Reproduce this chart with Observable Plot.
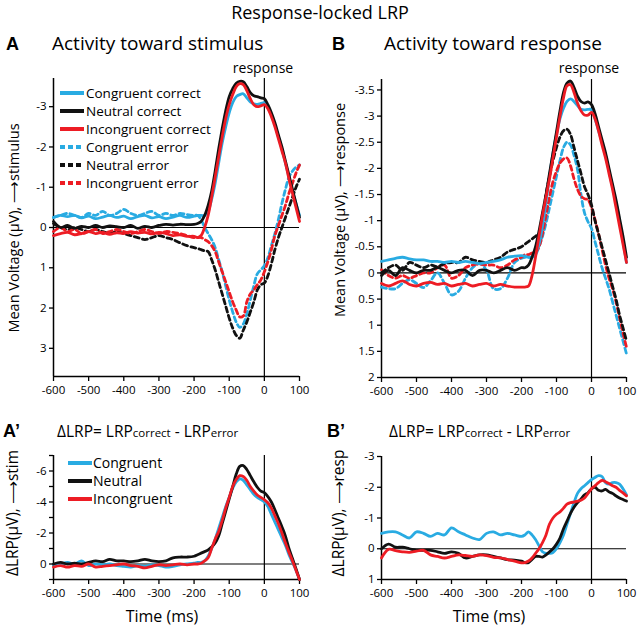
<!DOCTYPE html>
<html><head><meta charset="utf-8">
<script src="https://cdn.jsdelivr.net/npm/d3@7"></script>
<script src="https://cdn.jsdelivr.net/npm/@observablehq/plot@0.6"></script>
<style>
body{margin:0;background:#fff;}
#wrap{position:relative;width:640px;height:632px;overflow:hidden;font-family:"Open Sans",sans-serif;}
#wrap > .p{position:absolute;}
#overlay{position:absolute;left:0;top:0;pointer-events:none;}
</style></head>
<body><div id="wrap"></div>
<script>
// ---------- data ----------
const time = [-600,-580,-560,-540,-520,-500,-480,-460,-440,-420,-400,-380,-360,-340,-320,-300,-280,-260,-240,-220,-200,
  -190,-180,-170,-160,-150,-140,-130,-120,-110,-100,-90,-80,-70,-60,-50,-40,-30,-20,-10,0,10,20,30,40,50,60,70,80,90,100];
const xTicks = [-600,-500,-400,-300,-200,-100,0,100];

// Panel A: activity toward stimulus (µV)
const aCongCorrect = [-0.25,-0.3,-0.27,-0.3,-0.24,-0.28,-0.22,-0.26,-0.3,-0.25,-0.28,-0.22,-0.27,-0.3,-0.24,-0.27,-0.22,-0.26,-0.3,-0.25,-0.28,
  -0.3,-0.3,-0.3,-0.4,-0.7,-1.1,-1.6,-2.1,-2.5,-2.85,-3.1,-3.25,-3.3,-3.32,-3.22,-3.12,-3.07,-3.06,-3.08,-3.1,-3.0,-2.8,-2.55,-2.25,-1.95,-1.6,-1.25,-0.9,-0.6,-0.3];
const aNeutCorrect = [-0.15,0.0,-0.05,0.02,-0.03,0.0,-0.05,0.0,-0.04,-0.02,0.0,-0.05,0.02,-0.03,0.0,-0.05,-0.08,-0.06,-0.08,-0.07,-0.08,
  -0.1,-0.15,-0.3,-0.55,-0.9,-1.4,-1.95,-2.45,-2.9,-3.25,-3.45,-3.58,-3.63,-3.62,-3.5,-3.35,-3.27,-3.25,-3.22,-3.2,-3.05,-2.85,-2.6,-2.3,-2.0,-1.65,-1.3,-0.95,-0.6,-0.25];
const aIncCorrect = [0.2,0.15,0.12,0.18,0.15,0.1,0.15,0.12,0.17,0.13,0.15,0.1,0.14,0.12,0.16,0.12,0.15,0.2,0.18,0.22,0.22,
  0.25,0.2,0.0,-0.3,-0.75,-1.25,-1.75,-2.25,-2.7,-3.05,-3.3,-3.5,-3.57,-3.55,-3.4,-3.2,-3.05,-3.0,-3.02,-3.05,-2.95,-2.75,-2.5,-2.2,-1.9,-1.6,-1.2,-0.85,-0.5,-0.15];
const aCongError = [-0.25,-0.3,-0.35,-0.3,-0.25,-0.35,-0.3,-0.4,-0.3,-0.35,-0.45,-0.35,-0.3,-0.35,-0.4,-0.3,-0.35,-0.3,-0.35,-0.32,-0.3,
  -0.3,-0.2,0.0,0.15,0.3,0.5,0.8,1.1,1.45,1.8,2.1,2.35,2.48,2.4,2.15,1.8,1.45,1.15,1.05,0.95,0.75,0.45,0.15,-0.2,-0.6,-0.95,-1.25,-1.4,-1.5,-1.55];
const aNeutError = [-0.1,0.0,0.05,0.0,0.05,0.1,0.05,0.1,0.15,0.1,0.15,0.2,0.25,0.3,0.25,0.2,0.25,0.3,0.38,0.45,0.5,
  0.52,0.55,0.58,0.6,0.8,1.05,1.35,1.65,1.95,2.25,2.5,2.68,2.75,2.55,2.35,2.1,1.85,1.55,1.42,1.38,1.2,0.9,0.55,0.25,0.0,-0.25,-0.5,-0.75,-1.0,-1.2];
const aIncError = [0.1,0.0,0.1,0.05,0.15,0.1,0.05,0.15,0.1,0.05,0.1,0.15,0.1,0.05,0.1,0.15,0.1,0.12,0.15,0.2,0.25,
  0.25,0.25,0.3,0.35,0.45,0.6,0.85,1.1,1.35,1.6,1.85,2.05,2.22,2.2,1.85,1.65,1.55,1.42,1.3,1.1,0.85,0.55,0.2,-0.05,-0.3,-0.55,-0.85,-1.1,-1.35,-1.55];

// Panel B: activity toward response (µV)
const bCongCorrect = [-0.22,-0.25,-0.28,-0.3,-0.27,-0.25,-0.25,-0.22,-0.22,-0.2,-0.22,-0.2,-0.22,-0.2,-0.18,-0.2,-0.22,-0.25,-0.3,-0.32,-0.33,
  -0.32,-0.3,-0.3,-0.38,-0.55,-0.9,-1.35,-1.85,-2.3,-2.65,-2.95,-3.15,-3.28,-3.33,-3.28,-3.2,-3.13,-3.12,-3.13,-3.12,-2.95,-2.72,-2.5,-2.25,-1.95,-1.65,-1.35,-1.0,-0.6,-0.2];
const bNeutCorrect = [0.05,-0.05,0.05,-0.1,-0.05,0.0,-0.05,-0.05,-0.1,-0.05,0.0,-0.05,-0.05,0.05,-0.05,-0.05,0.0,-0.05,-0.1,-0.05,-0.1,
  -0.1,-0.15,-0.3,-0.5,-0.8,-1.15,-1.5,-1.9,-2.3,-2.7,-3.1,-3.45,-3.63,-3.67,-3.55,-3.38,-3.28,-3.25,-3.27,-3.22,-3.05,-2.8,-2.55,-2.3,-2.0,-1.7,-1.4,-1.05,-0.7,-0.3];
const bIncCorrect = [0.2,0.25,0.2,0.15,0.22,0.25,0.2,0.18,0.22,0.2,0.25,0.22,0.2,0.25,0.22,0.2,0.25,0.22,0.25,0.27,0.27,
  0.27,0.25,0.05,-0.3,-0.7,-1.1,-1.45,-1.8,-2.2,-2.6,-3.0,-3.35,-3.58,-3.6,-3.45,-3.25,-3.1,-3.02,-3.02,-3.07,-2.95,-2.72,-2.45,-2.2,-1.9,-1.6,-1.25,-0.9,-0.55,-0.2];
const bCongError = [0.27,0.3,0.3,0.2,0.13,0.2,0.28,0.15,0.0,0.2,0.42,0.35,0.1,-0.1,-0.18,-0.05,0.3,0.3,0.1,-0.2,-0.28,
  -0.3,-0.3,-0.3,-0.35,-0.5,-0.7,-0.95,-1.25,-1.55,-1.85,-2.15,-2.4,-2.5,-2.45,-2.25,-1.98,-1.5,-1.15,-0.98,-0.85,-0.6,-0.35,-0.1,0.1,0.3,0.55,0.8,1.05,1.3,1.55];
const bNeutError = [0.0,-0.1,-0.15,-0.05,-0.2,-0.15,-0.1,-0.15,-0.12,-0.18,-0.2,-0.2,-0.3,-0.25,-0.22,-0.2,-0.25,-0.3,-0.4,-0.45,-0.5,
  -0.55,-0.6,-0.65,-0.7,-0.75,-1.0,-1.5,-1.85,-2.15,-2.4,-2.6,-2.72,-2.75,-2.65,-2.4,-2.15,-1.9,-1.65,-1.5,-1.3,-1.0,-0.75,-0.5,-0.25,0.0,0.25,0.5,0.8,1.05,1.3];
const bIncError = [-0.06,0.05,0.1,0.05,0.1,0.05,0.0,0.0,-0.1,-0.15,0.1,0.05,-0.1,-0.15,-0.17,-0.15,-0.15,-0.1,-0.15,-0.25,-0.3,
  -0.35,-0.35,-0.38,-0.4,-0.5,-0.75,-1.1,-1.45,-1.75,-1.95,-2.1,-2.18,-2.2,-2.05,-1.8,-1.6,-1.47,-1.42,-1.4,-1.25,-1.02,-0.75,-0.45,-0.15,0.1,0.3,0.55,0.85,1.15,1.42];

// Panel A': ΔLRP toward stimulus
const apCong = [0.1,0.0,-0.1,0.0,-0.2,0.1,0.0,0.05,0.0,0.1,0.15,0.2,0.1,0.15,0.05,0.1,0.2,0.15,0.05,0.0,-0.05,
  -0.1,-0.1,-0.2,-0.5,-1.0,-1.6,-2.3,-3.0,-3.7,-4.3,-4.9,-5.3,-5.5,-5.4,-5.1,-4.8,-4.5,-4.3,-4.15,-4.0,-3.7,-3.2,-2.7,-2.2,-1.7,-1.2,-0.6,-0.1,0.4,1.0];
const apNeut = [0.0,-0.1,0.0,-0.05,0.0,-0.1,-0.2,-0.15,-0.3,-0.2,-0.2,-0.15,-0.2,-0.3,-0.2,-0.15,-0.2,-0.4,-0.45,-0.45,-0.5,
  -0.6,-0.7,-0.8,-0.9,-1.1,-1.35,-1.8,-2.6,-3.4,-4.2,-5.0,-5.8,-6.3,-6.35,-6.1,-5.7,-5.3,-4.95,-4.7,-4.6,-4.35,-4.0,-3.5,-2.95,-2.4,-1.8,-1.0,-0.35,0.3,1.0];
const apInc = [0.2,0.1,0.2,0.1,0.15,0.0,0.2,0.15,0.1,0.05,0.0,0.1,0.15,0.25,0.15,0.05,0.1,0.05,0.0,0.05,0.0,
  0.0,-0.05,-0.2,-0.4,-1.0,-1.6,-2.1,-2.8,-3.6,-4.3,-5.0,-5.45,-5.7,-5.65,-5.4,-5.0,-4.7,-4.45,-4.3,-4.15,-3.95,-3.6,-3.1,-2.6,-2.0,-1.35,-0.75,-0.2,0.4,1.0];

// Panel B': ΔLRP toward response
const bpCong = [-0.5,-0.55,-0.55,-0.45,-0.35,-0.55,-0.5,-0.4,-0.5,-0.45,-0.68,-0.55,-0.45,-0.35,-0.3,-0.5,-0.55,-0.45,-0.5,-0.45,-0.4,
  -0.45,-0.55,-0.45,-0.3,-0.1,0.1,0.15,0.15,0.12,0.0,-0.2,-0.45,-0.8,-1.15,-1.5,-1.8,-1.95,-2.05,-2.15,-2.25,-2.32,-2.38,-2.35,-2.15,-2.1,-2.15,-2.15,-2.1,-1.95,-1.75];
const bpNeut = [0.0,-0.15,-0.05,-0.05,0.0,0.05,0.05,0.05,0.1,0.15,0.1,0.15,0.3,0.25,0.2,0.2,0.25,0.3,0.35,0.37,0.4,
  0.45,0.45,0.35,0.25,0.25,0.27,0.2,0.1,0.0,-0.15,-0.35,-0.65,-0.9,-1.15,-1.35,-1.5,-1.62,-1.75,-1.82,-1.95,-2.0,-1.9,-1.88,-1.93,-1.85,-1.8,-1.72,-1.65,-1.6,-1.55];
const bpInc = [0.3,0.02,0.06,0.1,0.12,0.08,0.05,0.2,0.25,0.3,0.25,0.2,0.22,0.25,0.2,0.22,0.28,0.3,0.35,0.4,0.46,
  0.45,0.4,0.3,0.15,0.0,-0.2,-0.45,-0.8,-1.0,-1.12,-1.2,-1.32,-1.45,-1.5,-1.52,-1.55,-1.58,-1.65,-1.8,-1.95,-2.05,-2.15,-2.22,-2.18,-2.12,-2.05,-2.0,-1.9,-1.82,-1.72];

const CYAN = "#29abe2", RED = "#ed1c24", BLACK = "#111111";
const DASH = "5,3.5";

// ---------- drawing ----------
const wrap = document.getElementById("wrap");

function panel({left, top, width, height, ml, mr, mt, mb, yDomain, yTicks, yFormat, series}) {
  const lines = series.map(s => Plot.line(s.values, {
    x: (d, i) => time[i], y: d => d, stroke: s.color, strokeWidth: 2.8,
    strokeDasharray: s.dash ? DASH : null, curve: "catmull-rom", strokeLinejoin: "round"
  }));
  const chart = Plot.plot({
    width, height, marginLeft: ml, marginRight: mr, marginTop: mt, marginBottom: mb,
    style: {fontFamily: "Open Sans, sans-serif", fontSize: "11.5px", color: "#000", background: "transparent", overflow: "visible"},
    x: {domain: [-600, 100]},
    y: {domain: yDomain},
    marks: [
      Plot.axisX({ticks: xTicks, tickFormat: d => String(d), tickSize: 5, tickPadding: 4, label: null, strokeWidth: 1.3}),
      Plot.axisY({ticks: yTicks, tickFormat: yFormat, tickSize: 4, tickPadding: 3, label: null, strokeWidth: 1.3}),
      Plot.ruleY([0], {stroke: "#000", strokeWidth: 1.2}),
      Plot.ruleX([0], {stroke: "#000", strokeWidth: 1.2}),
      Plot.ruleX([-600], {stroke: "#000", strokeWidth: 1.5}),
      Plot.ruleY([yDomain[0]], {stroke: "#000", strokeWidth: 1.5}),
      ...lines
    ]
  });
  chart.classList.add("p");
  chart.style.left = left + "px";
  chart.style.top = top + "px";
  wrap.appendChild(chart);
}

panel({left: 0, top: 55, width: 315, height: 350, ml: 53, mr: 16, mt: 23, mb: 29,
  yDomain: [3.7, -3.7], yTicks: [-3, -2, -1, 0, 1, 2, 3], yFormat: d => String(d),
  series: [
    {values: aCongError, color: CYAN, dash: true},
    {values: aNeutError, color: BLACK, dash: true},
    {values: aIncError, color: RED, dash: true},
    {values: aCongCorrect, color: CYAN},
    {values: aNeutCorrect, color: BLACK},
    {values: aIncCorrect, color: RED}
  ]});

panel({left: 315, top: 55, width: 325, height: 350, ml: 66, mr: 14, mt: 24, mb: 28,
  yDomain: [2, -3.7], yTicks: [-3.5, -3, -2.5, -2, -1.5, -1, -0.5, 0, 0.5, 1, 1.5, 2], yFormat: d => String(d),
  series: [
    {values: bCongError, color: CYAN, dash: true},
    {values: bIncError, color: RED, dash: true},
    {values: bNeutError, color: BLACK, dash: true},
    {values: bCongCorrect, color: CYAN},
    {values: bNeutCorrect, color: BLACK},
    {values: bIncCorrect, color: RED}
  ]});

panel({left: 0, top: 430, width: 315, height: 202, ml: 53, mr: 16, mt: 25, mb: 53,
  yDomain: [1, -7], yTicks: [-7, -6, -5, -4, -3, -2, -1, 0, 1], yFormat: d => (d % 2 === 0 ? String(d) : ""),
  series: [
    {values: apCong, color: CYAN},
    {values: apNeut, color: BLACK},
    {values: apInc, color: RED}
  ]});

panel({left: 315, top: 430, width: 325, height: 202, ml: 66, mr: 14, mt: 26, mb: 53,
  yDomain: [1, -3], yTicks: [-3, -2, -1, 0, 1], yFormat: d => String(d),
  series: [
    {values: bpCong, color: CYAN},
    {values: bpNeut, color: BLACK},
    {values: bpInc, color: RED}
  ]});

// ---------- text overlay (titles, labels, legends) ----------
const legendA = [
  {label: "Congruent correct", color: CYAN, dash: false},
  {label: "Neutral correct", color: BLACK, dash: false},
  {label: "Incongruent correct", color: RED, dash: false},
  {label: "Congruent error", color: CYAN, dash: true},
  {label: "Neutral error", color: BLACK, dash: true},
  {label: "Incongruent error", color: RED, dash: true}
];
const legendAp = [
  {label: "Congruent", color: CYAN},
  {label: "Neutral", color: BLACK},
  {label: "Incongruent", color: RED}
];

const NS = "http://www.w3.org/2000/svg";
const ov = document.createElementNS(NS, "svg");
ov.setAttribute("id", "overlay");
ov.setAttribute("width", 640);
ov.setAttribute("height", 632);
ov.setAttribute("font-family", "Open Sans, sans-serif");
wrap.appendChild(ov);

function txt(x, y, s, opts = {}) {
  const t = document.createElementNS(NS, "text");
  t.setAttribute("x", x); t.setAttribute("y", y);
  t.setAttribute("font-size", opts.size || 14);
  if (opts.anchor) t.setAttribute("text-anchor", opts.anchor);
  if (opts.weight) t.setAttribute("font-weight", opts.weight);
  if (opts.family) t.setAttribute("font-family", opts.family);
  if (opts.rotate) { t.setAttribute("transform", `rotate(-90 ${x} ${y})`); t.setAttribute("dominant-baseline", "central"); }
  if (Array.isArray(s)) {
    for (const part of s) {
      const sp = document.createElementNS(NS, "tspan");
      sp.setAttribute("font-size", part.size);
      sp.textContent = part.text;
      t.appendChild(sp);
    }
  } else t.textContent = s;
  ov.appendChild(t);
  return t;
}
function seg(x1, x2, y, color, dash, w) {
  const l = document.createElementNS(NS, "line");
  l.setAttribute("x1", x1); l.setAttribute("x2", x2); l.setAttribute("y1", y); l.setAttribute("y2", y);
  l.setAttribute("stroke", color); l.setAttribute("stroke-width", w);
  if (dash) l.setAttribute("stroke-dasharray", "5,3");
  ov.appendChild(l);
}

txt(320, 19, "Response-locked LRP", {size: 18, anchor: "middle"});
txt(6, 50, "A", {size: 18, weight: "bold", family: "Liberation Sans, Arial, sans-serif"});
txt(52, 50, "Activity toward stimulus", {size: 19});
txt(332, 50, "B", {size: 18, weight: "bold", family: "Liberation Sans, Arial, sans-serif"});
txt(384, 50, "Activity toward response", {size: 19});
txt(263, 73, "response", {size: 14, anchor: "middle"});
txt(589, 73, "response", {size: 14, anchor: "middle"});

legendA.forEach((d, i) => {
  const y = 93 + i * 18;
  seg(60, 84, y, d.color, d.dash, 4);
  txt(86, y + 5, d.label, {size: 13.5});
});
legendAp.forEach((d, i) => {
  const y = 463 + i * 18;
  seg(68, 92, y, d.color, false, 4);
  txt(93, y + 5, d.label, {size: 14});
});

txt(3, 437, "A’", {size: 18, weight: "bold", family: "Liberation Sans, Arial, sans-serif"});
txt(57, 437, [{text: "ΔLRP= LRP", size: 15.5}, {text: "correct", size: 11.5}, {text: " - LRP", size: 15.5}, {text: "error", size: 11.5}]);
txt(327, 437, "B’", {size: 18, weight: "bold", family: "Liberation Sans, Arial, sans-serif"});
txt(389, 437, [{text: "ΔLRP= LRP", size: 15.5}, {text: "correct", size: 11.5}, {text: " - LRP", size: 15.5}, {text: "error", size: 11.5}]);

txt(13, 228, "Mean Voltage (µV), ⟶stimulus", {size: 14.5, anchor: "middle", rotate: true});
txt(339, 210, "Mean Voltage (µV), ⟶response", {size: 14.5, anchor: "middle", rotate: true});
txt(12, 513, "ΔLRP(µV), ⟶stim", {size: 15.5, anchor: "middle", rotate: true});
txt(338, 513, "ΔLRP(µV), ⟶resp", {size: 15.5, anchor: "middle", rotate: true});

txt(162, 622, "Time (ms)", {size: 16, anchor: "middle"});
txt(489, 622, "Time (ms)", {size: 16, anchor: "middle"});
</script>
</body></html>
